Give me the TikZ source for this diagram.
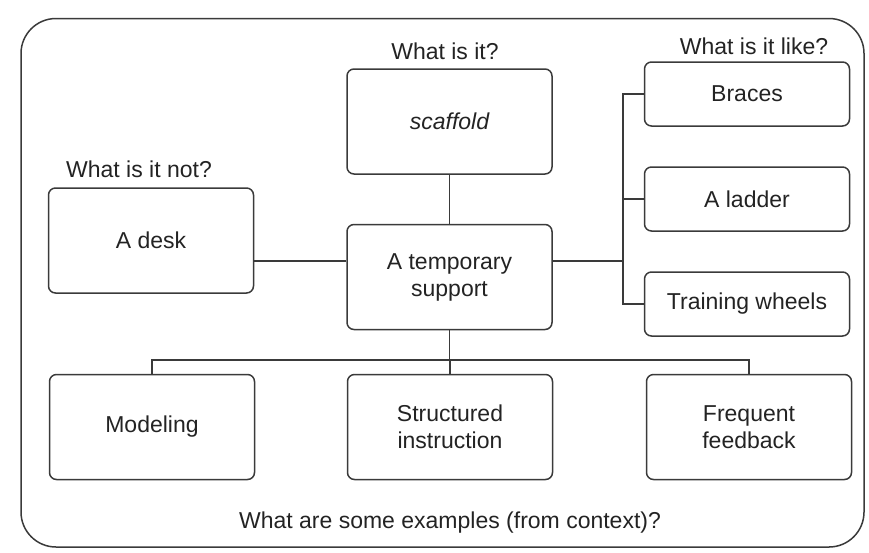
\documentclass[tikz,border=0pt]{standalone}
\usepackage{fontspec}
\setmainfont{Liberation Sans}
\definecolor{ln}{HTML}{3A3A3A}
\definecolor{txt}{HTML}{232323}
\begin{document}
\begin{tikzpicture}[x=1pt,y=-1pt]
\tikzset{
  lbl/.style={font=\fontsize{23}{27}\selectfont, text=txt, inner sep=0pt},
  bigbox/.style={draw=ln, line width=1.5pt, rounded corners=7pt, minimum width=205pt,
    minimum height=105pt, align=center, font=\fontsize{23}{27}\selectfont, text=txt, inner sep=2pt},
  smallbox/.style={bigbox, minimum height=64pt},
  conn/.style={draw=ln, line width=1.3pt},
  frame/.style={draw=ln, line width=1.5pt, rounded corners=35pt, minimum width=843pt, minimum height=528.5pt, inner sep=0pt}
}
\useasboundingbox (0,0) rectangle (869,552);
\node[frame] (outer) at (442.5,282.75) {};

\node[bigbox] (scaffold) at (449.5,121.5) {\itshape scaffold};
\node[bigbox] (center) at (449.5,277) {A temporary\\support};
\node[bigbox] (desk) at (151,240.5) {A desk};
\node[smallbox] (braces) at (747,94) {Braces};
\node[smallbox] (ladder) at (747,199) {A ladder};
\node[smallbox] (wheels) at (747,304) {Training wheels};
\node[bigbox] (modeling) at (152,427) {Modeling};
\node[bigbox] (structured) at (450,427) {Structured\\instruction};
\node[bigbox] (frequent) at (749,427) {Frequent\\feedback};

\node[lbl, anchor=base] (q1) at (445,59) {What is it?};
\node[lbl, anchor=base] (q2) at (139,177) {What is it not?};
\node[lbl, anchor=base] (q3) at (754,54) {What is it like?};
\node[lbl, anchor=base] (q4) at (450,528) {What are some examples (from context)?};

\coordinate (hy) at (0,261);
\coordinate (busx) at (623,0);
\coordinate (by) at (0,360);

\draw[conn] (desk.east |- hy) -- (center.west |- hy);
\draw[conn] (scaffold.south) -- (center.north);
\draw[conn] (center.east |- hy) -- (busx |- hy);
\draw[conn] (braces.west) -- (busx |- braces.west) -- (busx |- wheels.west) -- (wheels.west);
\draw[conn] (ladder.west) -- (busx |- ladder.west);
\draw[conn] (center.south) -- (center.south |- by);
\draw[conn] (modeling.north) -- (modeling.north |- by) -- (frequent.north |- by) -- (frequent.north);
\draw[conn] (structured.north) -- (structured.north |- by);
\end{tikzpicture}
\end{document}
